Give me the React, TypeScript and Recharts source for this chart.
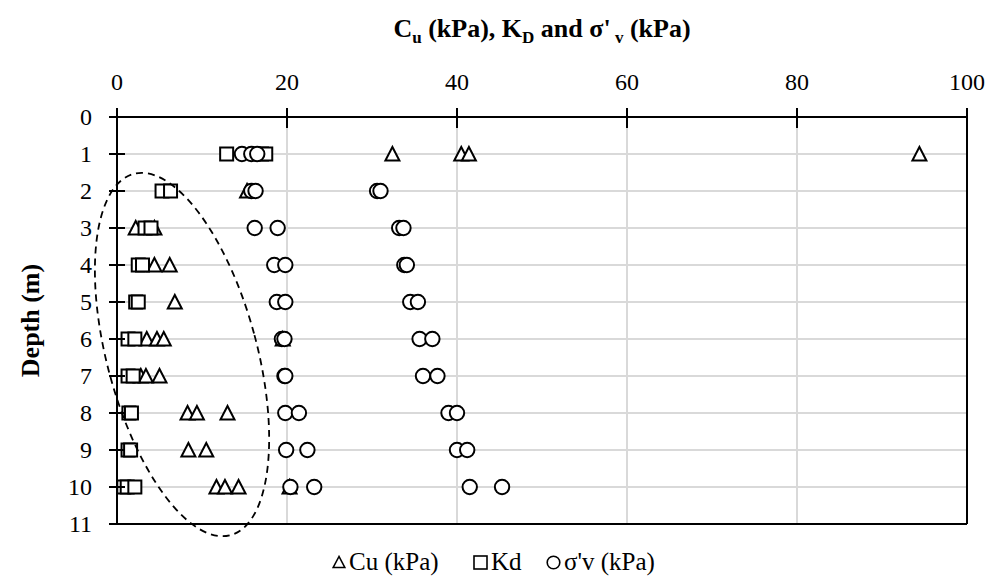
import React from 'react';
import { ScatterChart, Scatter, XAxis, YAxis, CartesianGrid, ReferenceLine } from 'recharts';

const depthLevels = [1, 2, 3, 4, 5, 6, 7, 8, 9, 10];

const cuValues: number[][] = [
  [32.4, 40.5, 41.4, 94.4],
  [15.3],
  [2.2, 4.4],
  [4.4, 6.2],
  [6.8],
  [3.5, 4.7, 5.5, 19.5],
  [2.8, 3.4, 5.0],
  [8.3, 9.4, 13.0],
  [8.4, 10.5],
  [11.7, 12.7, 14.3, 20.3],
];

const kdValues: number[][] = [
  [12.9, 17.0, 17.5],
  [5.3, 6.3],
  [3.3, 4.0],
  [2.5, 3.0],
  [2.2, 2.5],
  [1.3, 2.1],
  [1.3, 1.9],
  [1.4, 1.7],
  [1.3, 1.6],
  [0.8, 1.2, 2.1],
];

const sigmaValues: number[][] = [
  [14.7, 15.8, 16.5],
  [15.8, 16.3, 30.6, 31.0],
  [16.2, 18.9, 33.2, 33.7],
  [18.5, 19.8, 33.8, 34.1],
  [18.8, 19.8, 34.5, 35.4],
  [19.4, 19.7, 35.6, 37.1],
  [19.7, 19.8, 36.0, 37.7],
  [19.8, 21.4, 39.0, 40.0],
  [19.9, 22.4, 40.0, 41.2],
  [20.4, 23.2, 41.5, 45.3],
];

const xTicks = [0, 20, 40, 60, 80, 100];
const yTicks = [0, 1, 2, 3, 4, 5, 6, 7, 8, 9, 10, 11];
const ellipseCenter = [{ v: 7.65, depth: 6.42 }];

const FONT = "'Liberation Serif', 'Times New Roman', serif";

function flatten(values: number[][]) {
  return depthLevels.flatMap((d, i) => values[i].map((v) => ({ depth: d, v })));
}

const cuData = flatten(cuValues);
const kdData = flatten(kdValues);
const sigmaData = flatten(sigmaValues);

const TriangleShape = (props: any) => {
  const { cx, cy } = props;
  const pts = `${cx},${cy - 7} ${cx - 7},${cy + 6.5} ${cx + 7},${cy + 6.5}`;
  return <polygon points={pts} fill="#fff" stroke="#000" strokeWidth={2} />;
};

const SquareShape = (props: any) => {
  const { cx, cy } = props;
  return <rect x={cx - 6.5} y={cy - 6.5} width={13} height={13} fill="#fff" stroke="#000" strokeWidth={2} />;
};

const CircleShape = (props: any) => {
  const { cx, cy } = props;
  return <circle cx={cx} cy={cy} r={7.2} fill="#fff" stroke="#000" strokeWidth={2} />;
};

const EllipseShape = (props: any) => {
  const { cx, cy } = props;
  return (
    <ellipse
      cx={cx}
      cy={cy}
      rx={75}
      ry={187}
      transform={`rotate(-15 ${cx} ${cy})`}
      fill="none"
      stroke="#000"
      strokeWidth={1.8}
      strokeDasharray="7 5"
    />
  );
};

const XTick = (props: any) => {
  const { x, y, payload } = props;
  const axisY = y + 10;
  return (
    <g>
      <line x1={x} x2={x} y1={axisY - 9} y2={axisY + 11} stroke="#000" strokeWidth={2} />
      <text x={x} y={axisY - 27} textAnchor="middle" fontSize={24} fontFamily={FONT} fill="#000">
        {payload.value}
      </text>
    </g>
  );
};

const YTick = (props: any) => {
  const { x, y, payload } = props;
  const axisX = x + 10;
  return (
    <g>
      <line x1={axisX - 8} x2={axisX + 8} y1={y} y2={y} stroke="#000" strokeWidth={2} />
      <text x={axisX - 25} y={y} dy="0.35em" textAnchor="end" fontSize={24} fontFamily={FONT} fill="#000">
        {payload.value}
      </text>
    </g>
  );
};

const TitleLabel = (props: any) => {
  const vb = props.viewBox || { x: 117, y: 57, width: 850 };
  const cx = vb.x + vb.width / 2;
  return (
    <text x={cx} y={vb.y - 20} textAnchor="middle" fontSize={26} fontWeight="bold" fontFamily={FONT} fill="#000">
      <tspan>C</tspan>
      <tspan fontSize={17} dy={6}>u</tspan>
      <tspan dy={-6}> (kPa), K</tspan>
      <tspan fontSize={17} dy={6}>D</tspan>
      <tspan dy={-6}> and σ'</tspan>
      <tspan fontSize={17} dy={6}> v</tspan>
      <tspan dy={-6}> (kPa)</tspan>
    </text>
  );
};

const YLabel = (props: any) => {
  const vb = props.viewBox || { x: 57, y: 117, width: 60, height: 407 };
  const lx = vb.x - 27;
  const ly = vb.y + vb.height / 2;
  return (
    <text
      x={lx}
      y={ly}
      transform={`rotate(-90 ${lx} ${ly})`}
      textAnchor="middle"
      dy="0.35em"
      fontSize={26}
      fontWeight="bold"
      fontFamily={FONT}
      fill="#000"
    >
      Depth (m)
    </text>
  );
};

const legendText: React.CSSProperties = {
  position: 'absolute',
  top: 547,
  fontSize: 25,
  fontFamily: FONT,
  color: '#000',
  lineHeight: '30px',
  whiteSpace: 'nowrap',
};

export default function App() {
  return (
    <div style={{ position: 'absolute', left: 0, top: 0, width: 995, height: 582, background: '#fff' }}>
      <ScatterChart width={995} height={582} margin={{ top: 57, right: 28, bottom: 58, left: 57 }}>
        <CartesianGrid stroke="#d9d9d9" strokeWidth={2} />
        <XAxis
          type="number"
          dataKey="v"
          orientation="top"
          domain={[0, 100]}
          ticks={xTicks}
          interval={0}
          height={60}
          axisLine={{ stroke: '#000', strokeWidth: 2 }}
          tickLine={false}
          tickSize={8}
          tickMargin={2}
          tick={XTick}
          label={{ content: TitleLabel }}
        />
        <YAxis
          type="number"
          dataKey="depth"
          domain={[0, 11]}
          ticks={yTicks}
          interval={0}
          reversed
          width={60}
          axisLine={{ stroke: '#000', strokeWidth: 2 }}
          tickLine={false}
          tickSize={8}
          tickMargin={2}
          tick={YTick}
          label={{ content: YLabel }}
        />
        <ReferenceLine x={100} stroke="#000" strokeWidth={2} />
        <ReferenceLine y={11} stroke="#000" strokeWidth={2} />
        <Scatter data={cuData} shape={TriangleShape} isAnimationActive={false} />
        <Scatter data={kdData} shape={SquareShape} isAnimationActive={false} />
        <Scatter data={sigmaData} shape={CircleShape} isAnimationActive={false} />
        <Scatter data={ellipseCenter} shape={EllipseShape} isAnimationActive={false} />
      </ScatterChart>
      <svg style={{ position: 'absolute', left: 332, top: 555 }} width={14} height={14}>
        <polygon points="7,1.5 1.2,12.5 12.8,12.5" fill="#fff" stroke="#000" strokeWidth={1.6} />
      </svg>
      <span style={{ ...legendText, left: 349 }}>Cu (kPa)</span>
      <svg style={{ position: 'absolute', left: 473, top: 555 }} width={15} height={15}>
        <rect x={1} y={1} width={13} height={13} fill="#fff" stroke="#000" strokeWidth={1.6} />
      </svg>
      <span style={{ ...legendText, left: 491 }}>Kd</span>
      <svg style={{ position: 'absolute', left: 546, top: 555 }} width={15} height={15}>
        <circle cx={7.5} cy={7.5} r={6.3} fill="#fff" stroke="#000" strokeWidth={1.6} />
      </svg>
      <span style={{ ...legendText, left: 564 }}>σ'v (kPa)</span>
    </div>
  );
}
